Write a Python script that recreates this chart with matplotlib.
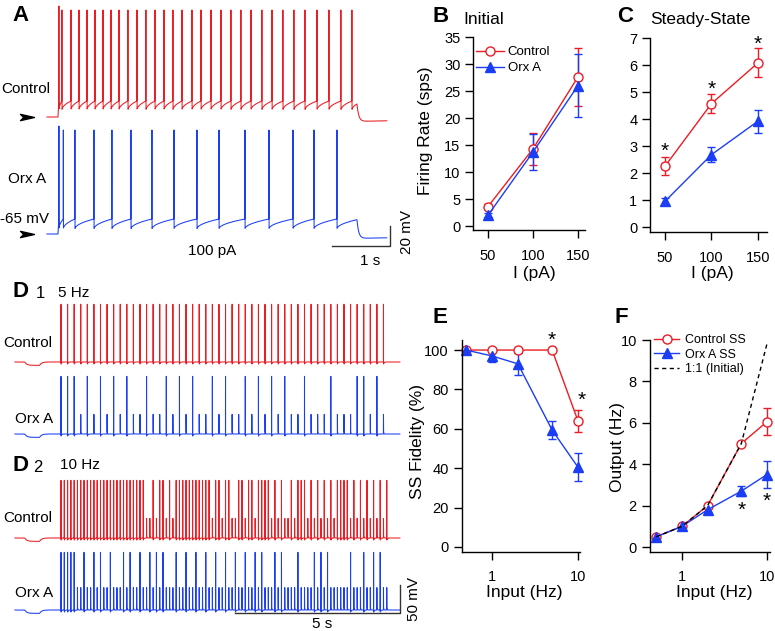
import numpy as np
import matplotlib.pyplot as plt
from matplotlib.path import Path
from matplotlib.lines import Line2D
from matplotlib.ticker import NullLocator
from matplotlib.transforms import offset_copy

plt.rcParams['font.family'] = ['Liberation Sans', 'DejaVu Sans']

W, H = 775, 631
RED = '#ec1c24'
BLUE = '#1b3ef5'

# ---- A: 100 pA current step, spike times (s) ----
a_step = (0.0, 5.155)
a_ctrl_spikes = [0.017, 0.069, 0.224, 0.362, 0.500, 0.638, 0.776, 0.914, 1.052, 1.207,
                 1.362, 1.517, 1.672, 1.828, 1.983, 2.138, 2.310, 2.466, 2.638, 2.810,
                 2.983, 3.155, 3.328, 3.517, 3.690, 3.879, 4.069, 4.259, 4.466, 4.672,
                 4.879, 5.069]
a_orx_spikes = [0.017, 0.092, 0.293, 0.621, 0.931, 1.259, 1.621, 2.000, 2.397, 2.776,
                3.224, 3.638, 4.052, 4.414, 4.810]

# ---- B / C: firing rate vs current ----
current = [50, 100, 150]
b_ctrl = [3.6, 14.3, 27.6]
b_ctrl_err = [0.5, 3.0, 5.4]
b_orx = [2.0, 13.7, 26.0]
b_orx_err = [0.4, 3.4, 5.8]
c_ctrl = [2.25, 4.57, 6.08]
c_ctrl_err = [0.34, 0.36, 0.54]
c_orx = [0.95, 2.68, 3.92]
c_orx_err = [0.13, 0.28, 0.42]
c_stars = [3.04, 5.34, 7.02]

# ---- D: pulse trains, indices of pulses that gave a full spike ----
d1_rate, d1_n = 5, 50
d1_ctrl_full = list(range(50))
d1_orx_full = [0, 1, 2, 4, 6, 8, 10, 13, 16, 18, 20, 23, 25, 28, 30, 32, 34, 37, 41,
               45, 46, 48]
d2_rate, d2_n = 10, 100
d2_ctrl_full = list(range(26)) + [28, 30, 31, 33, 35, 36, 37, 38, 39, 40, 41, 42, 43,
                                  44, 45, 47, 48, 50, 51, 54, 55, 57, 58, 60, 61, 62,
                                  63, 65, 67, 70, 72, 73, 74, 76, 78, 80, 82, 84, 85,
                                  86, 87, 89, 91, 93, 95, 97, 99]
d2_orx_full = [0, 1, 2, 3, 4, 7, 10, 12, 15, 19, 21, 24, 27, 29, 31, 35, 38, 41, 44,
               47, 50, 53, 56, 59, 61, 65, 67, 72, 77, 79, 81, 88, 92, 95, 97]

# ---- E / F: fidelity and output vs input frequency ----
freq = [0.5, 1, 2, 5, 10]
e_ctrl = [100, 100, 100, 100, 64]
e_ctrl_err = [0, 0, 0, 0, 5.5]
e_orx = [100, 97, 93, 59.4, 40.5]
e_orx_err = [0.5, 3, 5.6, 4.4, 7.2]
e_stars = [(5, 108.5), (11, 78)]
f_ctrl = [0.5, 1.0, 2.0, 5.0, 6.05]
f_ctrl_err = [0, 0, 0, 0, 0.65]
f_orx = [0.5, 1.0, 1.8, 2.7, 3.5]
f_orx_err = [0.03, 0.05, 0.1, 0.25, 0.65]
f_initial = [0.5, 1, 2, 5, 9.8]
f_stars = [(5, 2.1), (10, 2.55)]


fig = plt.figure(figsize=(W / 100, H / 100), dpi=100)


def add_axes_px(left, top, right, bottom):
    return fig.add_axes([left / W, 1 - bottom / H, (right - left) / W, (bottom - top) / H])


def ftext(x, y, s, **kw):
    kw.setdefault('fontsize', 11)
    fig.text(x / W, 1 - y / H, s, **kw)


def step_trace(spikes, t_on, t_off, t0, t1, rest, trough, thr, peak, dt=0.002):
    t = np.arange(t0, t1, dt)
    v = np.full(t.shape, float(rest))
    edges = [t_on] + list(spikes) + [t_off]
    isi = 0.1
    for i in range(len(edges) - 1):
        a, b = edges[i], edges[i + 1]
        m = (t >= a) & (t < b)
        if i == 0:
            v[m] = rest + (thr - rest) * (1 - np.exp(-(t[m] - a) / 0.01))
            continue
        if i < len(edges) - 2:
            isi = b - a
        frac = np.clip((t[m] - a) / isi, 0, 1)
        v[m] = trough + (thr - trough) * np.sqrt(frac)
    m = t >= t_off
    v_end = v[np.argmax(m) - 1]
    tt = t[m] - t_off
    v[m] = (rest - 4.5) + (v_end - rest + 4.5) * np.exp(-tt / 0.03) + 1.5 * (1 - np.exp(-tt / 0.8))
    for k, ts in enumerate(spikes):
        v[np.argmin(np.abs(t - ts))] = peak + (4 if k == 0 else 0)
    return t, v


def pulse_trace(rate, n, full, t0, t1, rest, peak, fail, dt=0.002):
    t = np.arange(t0, t1, dt)
    v = np.full(t.shape, float(rest))
    m = (t >= -1.1) & (t < -0.65)
    v[m] -= 6 * (1 - np.exp(-(t[m] + 1.1) / 0.06))
    m = t >= -0.65
    v[m] -= 6 * np.exp(-(t[m] + 0.65) / 0.06)
    for k in range(n):
        tk = k / rate
        i = np.searchsorted(t, tk)
        seg = (t > tk) & (t < tk + 0.08)
        if k in full:
            v[i] = peak
            v[seg] -= 4 * np.exp(-(t[seg] - tk) / 0.02)
        else:
            v[i] = rest + fail
            v[seg] += 0.25 * fail * np.exp(-(t[seg] - tk) / 0.008)
    return t, v


# ================= A =================
axA = add_axes_px(0, 0, 400, 262)
axA.set_xlim(-1.0, 5.897)
axA.set_ylim(-93, 169)
axA.axis('off')
off_a = 117
t, v = step_trace(a_ctrl_spikes, *a_step, -0.19, 5.67, -65, -58, -49, 42)
axA.plot(t, v + off_a, color=RED, lw=0.75)
t, v = step_trace(a_orx_spikes, *a_step, -0.19, 5.67, -65, -60, -50, 39)
axA.plot(t, v, color=BLUE, lw=0.75)
dart = Path([(-1, 0.45), (1, 0), (-1, -0.45), (-0.55, 0), (-1, 0.45)],
            [Path.MOVETO, Path.LINETO, Path.LINETO, Path.LINETO, Path.CLOSEPOLY])
axA.plot([-0.53, -0.53], [-65 + off_a, -65], ls='none', marker=dart, ms=10, color='black')
axA.plot([4.724, 5.724, 5.724], [-77, -77, -57], color='#333333', lw=1)
ftext(12, 21, 'A', fontsize=16, fontweight='bold', va='baseline')
ftext(1, 89, 'Control', va='center')
ftext(8, 179, 'Orx A', va='center')
ftext(0, 219, '-65 mV', va='center')
ftext(212, 251, '100 pA', va='center', ha='center')
ftext(370, 261, '1 s', va='center', ha='center')
ftext(407, 232, '20 mV', va='center', ha='center', rotation=90)


def style(ax, ypad=3.5, xpad=8):
    for s in ('top', 'right'):
        ax.spines[s].set_visible(False)
    for s in ('left', 'bottom'):
        ax.spines[s].set_linewidth(1)
    ax.tick_params(direction='out', length=5.5, width=1, labelsize=10.5)
    ax.tick_params(axis='x', pad=xpad)
    ax.tick_params(axis='y', pad=ypad)


def series(ax, x, y, err, color, marker, face, label=None):
    ax.errorbar(x, y, yerr=err, color=color, marker=marker, mfc=face, mec=color,
                ms=6.5, lw=1, elinewidth=1, capsize=3, capthick=1, label=label,
                clip_on=False)


def stars(ax, pts, fs=15):
    tr = offset_copy(ax.transData, fig=fig, y=-0.59 * fs, units='points')
    for x, y in pts:
        ax.text(x, y, '*', transform=tr, ha='center', va='baseline', fontsize=fs)


def set_labels(ax, xlab, xpos, ylab=None, ypos=None):
    ax.set_xlabel(xlab, fontsize=12.5)
    ax.xaxis.set_label_coords(*xpos)
    ax.xaxis.label.set_va('center')
    if ylab:
        ax.set_ylabel(ylab, fontsize=12.5)
        ax.yaxis.set_label_coords(*ypos)
        ax.yaxis.label.set_va('center')


# ================= B =================
axB = add_axes_px(473, 37, 585, 230)
style(axB)
series(axB, current, b_ctrl, b_ctrl_err, RED, 'o', 'white')
series(axB, current, b_orx, b_orx_err, BLUE, '^', BLUE)
axB.set_xlim(33.3, 157.8)
axB.set_ylim(-0.74, 35)
axB.set_xticks(current)
axB.set_yticks(range(0, 36, 5))
set_labels(axB, 'I (pA)', (0.55, -0.225), 'Firing Rate (sps)', (-0.42, 0.513))
handles = [Line2D([], [], color=RED, marker='o', mfc='white', mec=RED, ms=6.5, lw=1),
           Line2D([], [], color=BLUE, marker='^', mfc=BLUE, mec=BLUE, ms=6.5, lw=1)]
axB.legend(handles, ['Control', 'Orx A'], loc='upper left', frameon=False,
           bbox_to_anchor=(476 / W, 1 - 46 / H), bbox_transform=fig.transFigure,
           fontsize=9.5, handlelength=2.1, handletextpad=0.3, labelspacing=0.3,
           borderpad=0, borderaxespad=0)
ftext(433, 22, 'B', fontsize=16, fontweight='bold', va='baseline')
ftext(463, 24, 'Initial', fontsize=12.5, va='baseline')

# ================= C =================
axC = add_axes_px(650, 38, 767, 232)
style(axC)
series(axC, current, c_ctrl, c_ctrl_err, RED, 'o', 'white')
series(axC, current, c_orx, c_orx_err, BLUE, '^', BLUE)
axC.set_xlim(33.9, 159.7)
axC.set_ylim(-0.185, 7)
axC.set_xticks(current)
axC.set_yticks(range(0, 8))
stars(axC, zip(current, c_stars))
set_labels(axC, 'I (pA)', (0.53, -0.213))
ftext(617, 22, 'C', fontsize=16, fontweight='bold', va='baseline')
ftext(650, 24, 'Steady-State', fontsize=12.5, va='baseline')

# ================= D =================
axD = add_axes_px(0, 280, 420, 631)
axD.set_xlim(-1.854, 10.91)
axD.set_ylim(-102.5, 524.3)
axD.axis('off')
traces = [(d1_rate, d1_n, d1_ctrl_full, 442.9, RED, 28),
          (d1_rate, d1_n, d1_orx_full, 314.3, BLUE, 28),
          (d2_rate, d2_n, d2_ctrl_full, 128.6, RED, 28),
          (d2_rate, d2_n, d2_orx_full, 0.0, BLUE, 32)]
for rate, n, full, off, col, fail in traces:
    t, v = pulse_trace(rate, n, set(full), -1.4, 10.3, -65, 42, fail)
    axD.plot(t, v + off, color=col, lw=0.75)
axD.plot([5.3, 10.3, 10.3], [-70.4, -70.4, -20.4], color='#333333', lw=1)
ftext(13, 297, 'D', fontsize=16, fontweight='bold', va='baseline')
ftext(36, 298, '1', fontsize=12, va='baseline')
ftext(58, 297, '5 Hz', va='baseline')
ftext(13, 471, 'D', fontsize=16, fontweight='bold', va='baseline')
ftext(33, 472, '2', fontsize=12, va='baseline')
ftext(60, 469, '10 Hz', va='baseline')
ftext(3, 343, 'Control', va='center')
ftext(15, 419, 'Orx A', va='center')
ftext(3, 518, 'Control', va='center')
ftext(15, 593, 'Orx A', va='center')
ftext(322, 624, '5 s', va='center', ha='center')
ftext(414, 599, '50 mV', va='center', ha='center', rotation=90)

# ================= E =================
axE = add_axes_px(462, 340, 580, 552)
style(axE, ypad=4, xpad=7.5)
axE.set_xscale('log')
series(axE, freq, e_ctrl, e_ctrl_err, RED, 'o', 'white')
series(axE, freq, e_orx, e_orx_err, BLUE, '^', BLUE)
axE.set_xlim(0.448, 10.55)
axE.set_ylim(-2.54, 105.1)
axE.set_xticks([1, 10], ['1', '10'])
axE.xaxis.set_minor_locator(NullLocator())
axE.set_yticks(range(0, 101, 20))
stars(axE, e_stars)
set_labels(axE, 'Input (Hz)', (0.525, -0.19), 'SS Fidelity (%)', (-0.381, 0.519))
ftext(433, 323, 'E', fontsize=16, fontweight='bold', va='baseline')

# ================= F =================
axF = add_axes_px(650, 340, 770, 552)
style(axF, ypad=4, xpad=7.5)
axF.set_xscale('log')
series(axF, freq, f_ctrl, f_ctrl_err, RED, 'o', 'white')
series(axF, freq, f_orx, f_orx_err, BLUE, '^', BLUE)
axF.plot(freq, f_initial, color='black', lw=1, ls=(0, (3, 2.5)), zorder=3, clip_on=False)
axF.set_xlim(0.42, 10.88)
axF.set_ylim(-0.24, 10)
axF.set_xticks([1, 10], ['1', '10'])
axF.xaxis.set_minor_locator(NullLocator())
axF.set_yticks(range(0, 11, 2))
stars(axF, f_stars)
set_labels(axF, 'Input (Hz)', (0.533, -0.19), 'Output (Hz)', (-0.267, 0.495))
handles = [Line2D([], [], color=RED, marker='o', mfc='white', mec=RED, ms=6.5, lw=1),
           Line2D([], [], color=BLUE, marker='^', mfc=BLUE, mec=BLUE, ms=6.5, lw=1),
           Line2D([], [], color='black', lw=1, ls=(0, (3, 2.5)))]
axF.legend(handles, ['Control SS', 'Orx A SS', '1:1 (Initial)'], loc='upper left',
           frameon=False, bbox_to_anchor=(654 / W, 1 - 334 / H),
           bbox_transform=fig.transFigure, fontsize=9, handlelength=2.0,
           handletextpad=0.5, labelspacing=0.2, borderpad=0, borderaxespad=0)
ftext(615, 323, 'F', fontsize=16, fontweight='bold', va='baseline')

fig.savefig('out.png', dpi=100)
